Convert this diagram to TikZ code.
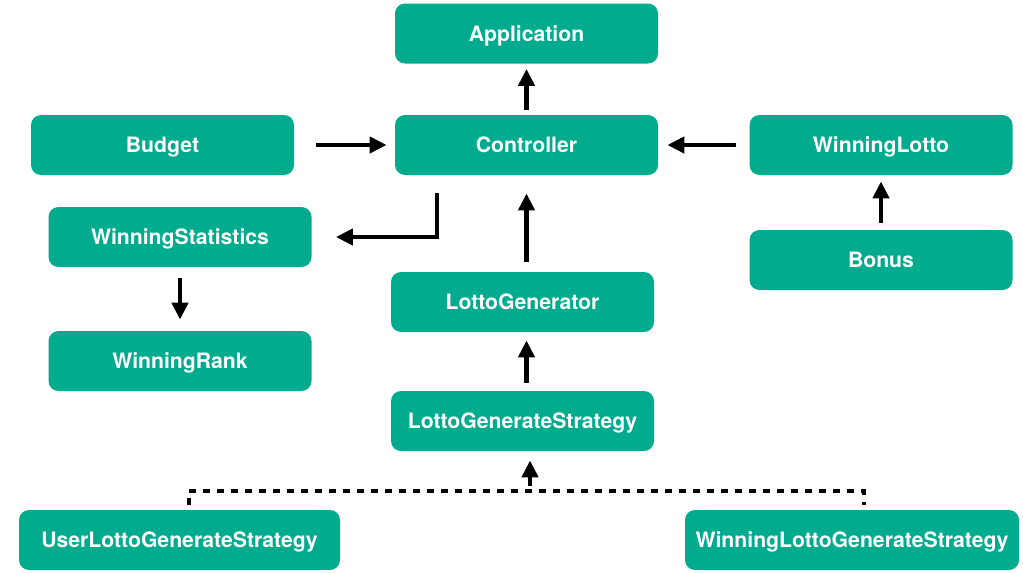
\documentclass[tikz,border=0pt]{standalone}
\usepackage{fontspec}
\setmainfont{TeX Gyre Heros}
\usetikzlibrary{positioning,arrows.meta}
\definecolor{lottogreen}{HTML}{00AB8E}

\begin{document}
\begin{tikzpicture}[x=0.5pt,y=-0.5pt,
    box/.style={rectangle,rounded corners=5pt,fill=lottogreen,text=white,
        font=\bfseries\fontsize{10.6}{12}\selectfont,text height=7.7pt,text depth=0pt,
        minimum width=131.5pt,minimum height=30pt,inner sep=0pt},
    link/.style={-{Triangle[length=8.5pt,width=8pt]},line width=2.3pt},
    dep/.style={dash pattern=on 3.5pt off 3.5pt,line width=1.8pt}]
    \useasboundingbox (0,0) rectangle (1023,573);
    % classes
    \node[box]                      (app)    at (526.5,33.5) {Application};
    \node[box]                      (budget) at (162.5,145)  {Budget};
    \node[box]                      (ctrl)   at (526.5,145)  {Controller};
    \node[box]                      (wlotto) at (881,145)    {WinningLotto};
    \node[box]                      (stats)  at (180,237)    {WinningStatistics};
    \node[box]                      (bonus)  at (881,260)    {Bonus};
    \node[box]                      (lgen)   at (522.5,302)  {LottoGenerator};
    \node[box]                      (rank)   at (180,361)    {WinningRank};
    \node[box]                      (strat)  at (522.5,421)  {LottoGenerateStrategy};
    \node[box,minimum width=160.5pt] (ustrat) at (179.5,540) {UserLottoGenerateStrategy};
    \node[box,minimum width=167pt]   (wstrat) at (852,540)   {WinningLottoGenerateStrategy};
    \coordinate (merge) at (530,491);
    % arrows
    \draw[link,shorten <=2.5pt,shorten >=2.5pt] (ctrl.north) -- (app.south);
    \draw[link,shorten <=11pt,shorten >=4pt] (budget) -- (ctrl);
    \draw[link,shorten <=6.5pt,shorten >=4.5pt] (wlotto) -- (ctrl);
    \draw[link,shorten <=9pt,shorten >=12pt] ([xshift=-44.75pt]ctrl.south) |- (stats.east);
    \draw[link,shorten <=5.5pt,shorten >=5.5pt] (stats) -- (rank);
    \draw[link,shorten <=5pt,shorten >=9pt] (lgen.north -| ctrl.south) -- (ctrl.south);
    \draw[link,shorten <=3.5pt,shorten >=3pt] (bonus) -- (wlotto);
    \draw[link,shorten <=4pt,shorten >=4pt] (strat.north -| ctrl.south) -- (lgen.south -| ctrl.south);
    % strategy implementations
    \draw[dep,shorten <=2.5pt,shorten >=2.5pt] ([xshift=4.75pt]ustrat.north) |- (merge) -| ([xshift=6pt]wstrat.north);
    \draw[link,shorten <=2.5pt,shorten >=4.5pt] (merge) -- (merge |- strat.south);
\end{tikzpicture}
\end{document}
